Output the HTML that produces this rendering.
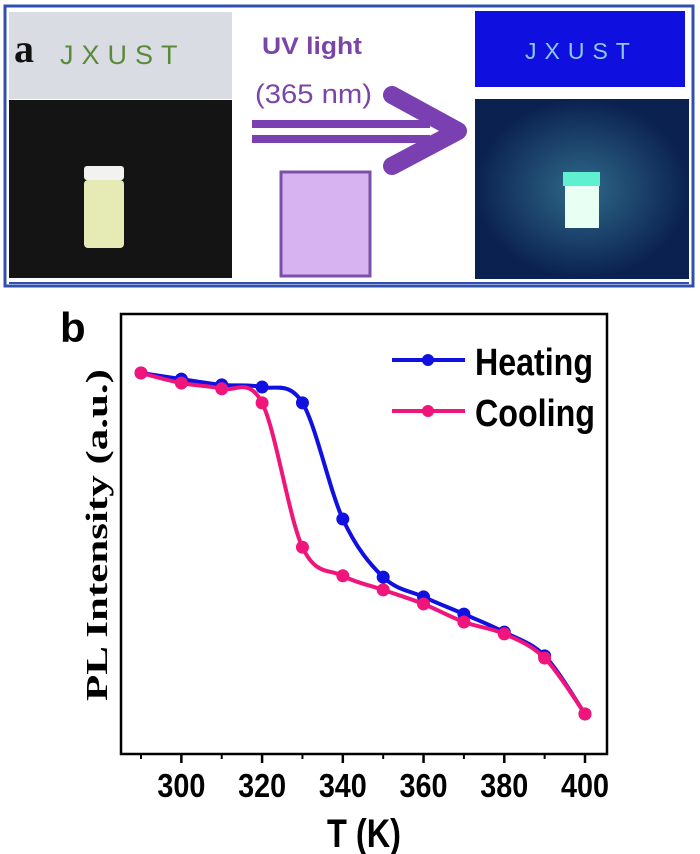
<!DOCTYPE html>
<html><head><meta charset="utf-8"><style>
html,body{margin:0;padding:0;background:#fff;}
svg{display:block;}
</style></head><body>
<svg width="700" height="854" viewBox="0 0 700 854" xmlns="http://www.w3.org/2000/svg">
<defs>
<radialGradient id="glow" cx="0.5" cy="0.5" r="0.5">
<stop offset="0" stop-color="#2f6a8a"/><stop offset="1" stop-color="#0b2150"/>
</radialGradient>
</defs>
<g>
<rect x="5" y="6" width="688" height="280" fill="#fff" stroke="#3050b0" stroke-width="3"/>
<rect x="9" y="12" width="223" height="87" fill="#d9dce3"/>
<rect x="9" y="100" width="223" height="178" fill="#141414"/>
<text x="14" y="62" font-family="Liberation Serif, serif" font-weight="bold" font-size="40" fill="#111">a</text>
<text x="60" y="64" font-family="Liberation Sans, sans-serif" font-size="27" letter-spacing="8" fill="#5a8a3a">JXUST</text>
<rect x="84" y="166" width="40" height="14" rx="3" fill="#f2f2f0"/>
<rect x="84" y="180" width="40" height="68" rx="4" fill="#e6ebb5"/>
<text x="262" y="54" font-family="Liberation Sans, sans-serif" font-weight="bold" font-size="24" textLength="100" lengthAdjust="spacingAndGlyphs" fill="#7b45a8">UV light</text>
<text x="255" y="103" font-family="Liberation Sans, sans-serif" font-size="27" textLength="117" lengthAdjust="spacingAndGlyphs" fill="#7b45a8">(365 nm)</text>
<g fill="none" stroke="#7a3fb0" stroke-linecap="round" stroke-linejoin="round">
<line x1="252" y1="124" x2="430" y2="124" stroke-width="8" stroke-linecap="butt"/>
<line x1="252" y1="139" x2="430" y2="139" stroke-width="8" stroke-linecap="butt"/>
<polyline points="392,95 458,131 392,166" stroke-width="18"/>
</g>
<rect x="281" y="172" width="89" height="104" fill="#d8b3f2" stroke="#7a50a8" stroke-width="3"/>
<rect x="475" y="11" width="210" height="76" fill="#0f10e0"/>
<text x="525" y="59" font-family="Liberation Sans, sans-serif" font-size="23" letter-spacing="8" fill="#8fc8f0">JXUST</text>
<rect x="475" y="99" width="214" height="180" fill="url(#glow)"/>
<rect x="563" y="172" width="37" height="14" fill="#5ff0d0"/>
<rect x="565" y="186" width="34" height="42" fill="#e8fff4"/>
<line x1="9" y1="283" x2="689" y2="283" stroke="#3050b0" stroke-width="2"/>
</g>

<g id="chart">
<text x="60" y="342" font-family="Liberation Sans, sans-serif" font-weight="bold" font-size="42" fill="#000">b</text>
<rect x="121" y="314" width="486" height="440" fill="none" stroke="#000" stroke-width="2.5"/>
<text transform="translate(107,535) rotate(-90)" text-anchor="middle" font-family="Liberation Serif, serif" font-weight="bold" font-size="31" textLength="332" lengthAdjust="spacingAndGlyphs" fill="#000">PL Intensity (a.u.)</text>
<text x="364" y="847" text-anchor="middle" font-family="Liberation Sans, sans-serif" font-weight="bold" font-size="40" textLength="74" lengthAdjust="spacingAndGlyphs" fill="#000">T (K)</text>
<g id="xticks"></g>
<g id="series"></g>
<g>
<line x1="392" y1="360" x2="465" y2="360" stroke="#1010e0" stroke-width="4"/>
<circle cx="428" cy="360" r="6" fill="#1010e0"/>
<text x="475" y="375" font-family="Liberation Sans, sans-serif" font-weight="bold" font-size="38" textLength="118" lengthAdjust="spacingAndGlyphs" fill="#000">Heating</text>
<line x1="392" y1="411" x2="465" y2="411" stroke="#f0157a" stroke-width="4"/>
<circle cx="428" cy="411" r="6" fill="#f0157a"/>
<text x="475" y="426" font-family="Liberation Sans, sans-serif" font-weight="bold" font-size="38" textLength="120" lengthAdjust="spacingAndGlyphs" fill="#000">Cooling</text>
</g>
</g>
</svg>
<script>
const temps = [290,300,310,320,330,340,350,360,370,380,390,400];
const heating = [86.6,85.2,83.9,83.4,79.8,53.4,40.2,35.7,31.8,27.7,22.3,9.1];
const cooling = [86.6,84.3,83.0,79.8,47.0,40.5,37.3,34.1,30.0,27.3,21.8,9.1];
const xTickLabels = [300,320,340,360,380,400];
const xMinorTicks = [290,310,330,350,370,390];

const NS = 'http://www.w3.org/2000/svg';
function xs(t){ return 141 + (t-290)*(585-141)/110; }
function ys(v){ return 754 - v*4.4; }
const tg = document.getElementById('xticks');
xTickLabels.forEach(t=>{
  const l = document.createElementNS(NS,'line');
  l.setAttribute('x1',xs(t)); l.setAttribute('x2',xs(t));
  l.setAttribute('y1',755); l.setAttribute('y2',763);
  l.setAttribute('stroke','#000'); l.setAttribute('stroke-width','2.5');
  
  
  tg.appendChild(l);
  const tx = document.createElementNS(NS,'text');
  tx.setAttribute('x',xs(t)); tx.setAttribute('y',797);
  tx.setAttribute('text-anchor','middle');
  tx.setAttribute('font-family','Liberation Sans, sans-serif');
  tx.setAttribute('font-weight','bold'); tx.setAttribute('font-size','33');
  tx.setAttribute('textLength','48'); tx.setAttribute('lengthAdjust','spacingAndGlyphs');
  tx.textContent = t;
  
  
  tg.appendChild(tx);
});
xMinorTicks.forEach(t=>{
  const l = document.createElementNS(NS,'line');
  l.setAttribute('x1',xs(t)); l.setAttribute('x2',xs(t));
  l.setAttribute('y1',755); l.setAttribute('y2',759);
  l.setAttribute('stroke','#000'); l.setAttribute('stroke-width','2');
  
  
  tg.appendChild(l);
});
function smoothPath(pts){
  let d = 'M'+pts[0][0]+','+pts[0][1];
  for(let i=0;i<pts.length-1;i++){
    const p0=pts[Math.max(0,i-1)], p1=pts[i], p2=pts[i+1], p3=pts[Math.min(pts.length-1,i+2)];
    const c1=[p1[0]+(p2[0]-p0[0])/6, p1[1]+(p2[1]-p0[1])/6];
    const c2=[p2[0]-(p3[0]-p1[0])/6, p2[1]-(p3[1]-p1[1])/6];
    d+=' C'+c1[0]+','+c1[1]+' '+c2[0]+','+c2[1]+' '+p2[0]+','+p2[1];
  }
  return d;
}
const sg = document.getElementById('series');
[[heating,'#1010e0','heating'],[cooling,'#f0157a','cooling']].forEach(([vals,col,nm])=>{
  const pts = temps.map((t,i)=>[xs(t),ys(vals[i])]);
  const p = document.createElementNS(NS,'path');
  p.setAttribute('d',smoothPath(pts));
  p.setAttribute('fill','none'); p.setAttribute('stroke',col); p.setAttribute('stroke-width','4');
  
  
  sg.appendChild(p);
  pts.forEach(pt=>{
    const c = document.createElementNS(NS,'circle');
    c.setAttribute('cx',pt[0]); c.setAttribute('cy',pt[1]); c.setAttribute('r',6.5);
    c.setAttribute('fill',col);
    
    
    sg.appendChild(c);
  });
});
</script>
</body></html>
